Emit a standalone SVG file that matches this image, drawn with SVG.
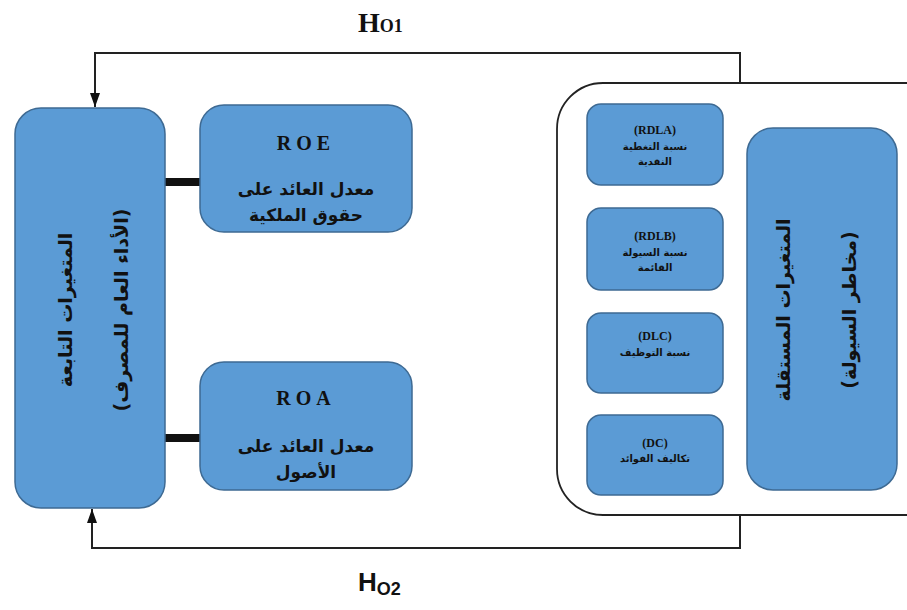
<svg xmlns="http://www.w3.org/2000/svg" width="907" height="610" viewBox="0 0 907 610">
<style>
.box{fill:#5B9BD5;stroke:#3E6A93;stroke-width:1.5}
.ar{font-family:"DejaVu Sans",sans-serif;font-weight:bold;fill:#111;text-anchor:middle}
.lat{font-family:"Liberation Serif",serif;font-weight:bold;fill:#111;text-anchor:middle}
.line{fill:none;stroke:#222;stroke-width:2}
</style>
<defs>
<marker id="arr" viewBox="0 0 14 10" refX="14" refY="5" markerWidth="14" markerHeight="10" orient="auto" markerUnits="userSpaceOnUse">
<path d="M0,0 L14,5 L0,10 z" fill="#111"/>
</marker>
</defs>
<rect width="907" height="610" fill="#fff"/>
<g id="container">
<rect x="557" y="83" width="420" height="432" rx="46" fill="none" stroke="#222" stroke-width="1.8"/>
</g>
<g id="connectors">
<path class="line" d="M740,83 V53 H95 V107" marker-end="url(#arr)"/>
<path class="line" d="M740,515 V548 H92 V509" marker-end="url(#arr)"/>
<rect x="165" y="178" width="36" height="8" fill="#111"/>
<rect x="165" y="434" width="36" height="8" fill="#111"/>
</g>
<g id="h01">
<text x="358" y="32" font-family="Liberation Serif,serif" font-weight="bold" font-size="28" fill="#111">H<tspan font-size="18">O1</tspan></text>
</g>
<g id="h02">
<text x="358" y="591" font-family="Liberation Sans,sans-serif" font-weight="bold" font-size="26" fill="#111">H<tspan font-size="18" dy="4">O2</tspan></text>
</g>
<g id="dependent">
<rect class="box" x="15" y="108" width="150" height="400" rx="26"/>
<text class="ar" font-size="19" transform="translate(72,310) rotate(-90)">المتغيرات التابعة</text>
<text class="ar" font-size="19" transform="translate(128,310) rotate(-90)">(الأداء العام للمصرف)</text>
</g>
<g id="roe">
<rect class="box" x="200" y="105" width="212" height="127" rx="24"/>
<text class="lat" x="306" y="150" font-size="20" letter-spacing="5">ROE</text>
<text class="ar" x="306" y="195" font-size="17">معدل العائد على</text>
<text class="ar" x="306" y="221" font-size="17">حقوق الملكية</text>
</g>
<g id="roa">
<rect class="box" x="200" y="362" width="212" height="128" rx="24"/>
<text class="lat" x="306" y="405" font-size="20" letter-spacing="5">ROA</text>
<text class="ar" x="306" y="452" font-size="17">معدل العائد على</text>
<text class="ar" x="306" y="478" font-size="17">الأصول</text>
</g>
<g id="rdla">
<rect class="box" x="587" y="104" width="136" height="81" rx="14"/>
<text class="lat" x="655" y="134" font-size="12">(RDLA)</text>
<text class="ar" x="655" y="150" font-size="10">نسبة التغطية</text>
<text class="ar" x="655" y="165" font-size="10">النقدية</text>
</g>
<g id="rdlb">
<rect class="box" x="587" y="208" width="136" height="82" rx="14"/>
<text class="lat" x="655" y="240" font-size="12">(RDLB)</text>
<text class="ar" x="655" y="256" font-size="10">نسبة السيولة</text>
<text class="ar" x="655" y="271" font-size="10">القائمة</text>
</g>
<g id="dlc">
<rect class="box" x="587" y="313" width="136" height="80" rx="14"/>
<text class="lat" x="655" y="340" font-size="12">(DLC)</text>
<text class="ar" x="655" y="356" font-size="10">نسبة التوظيف</text>
</g>
<g id="dc">
<rect class="box" x="587" y="415" width="136" height="80" rx="14"/>
<text class="lat" x="655" y="447" font-size="12">(DC)</text>
<text class="ar" x="655" y="462" font-size="10">تكاليف الفوائد</text>
</g>
<g id="independent">
<rect class="box" x="747" y="128" width="150" height="362" rx="26"/>
<text class="ar" font-size="19" transform="translate(790,310) rotate(-90)">المتغيرات المستقلة</text>
<text class="ar" font-size="19" transform="translate(856,310) rotate(-90)">(مخاطر السيولة)</text>
</g>
</svg>
